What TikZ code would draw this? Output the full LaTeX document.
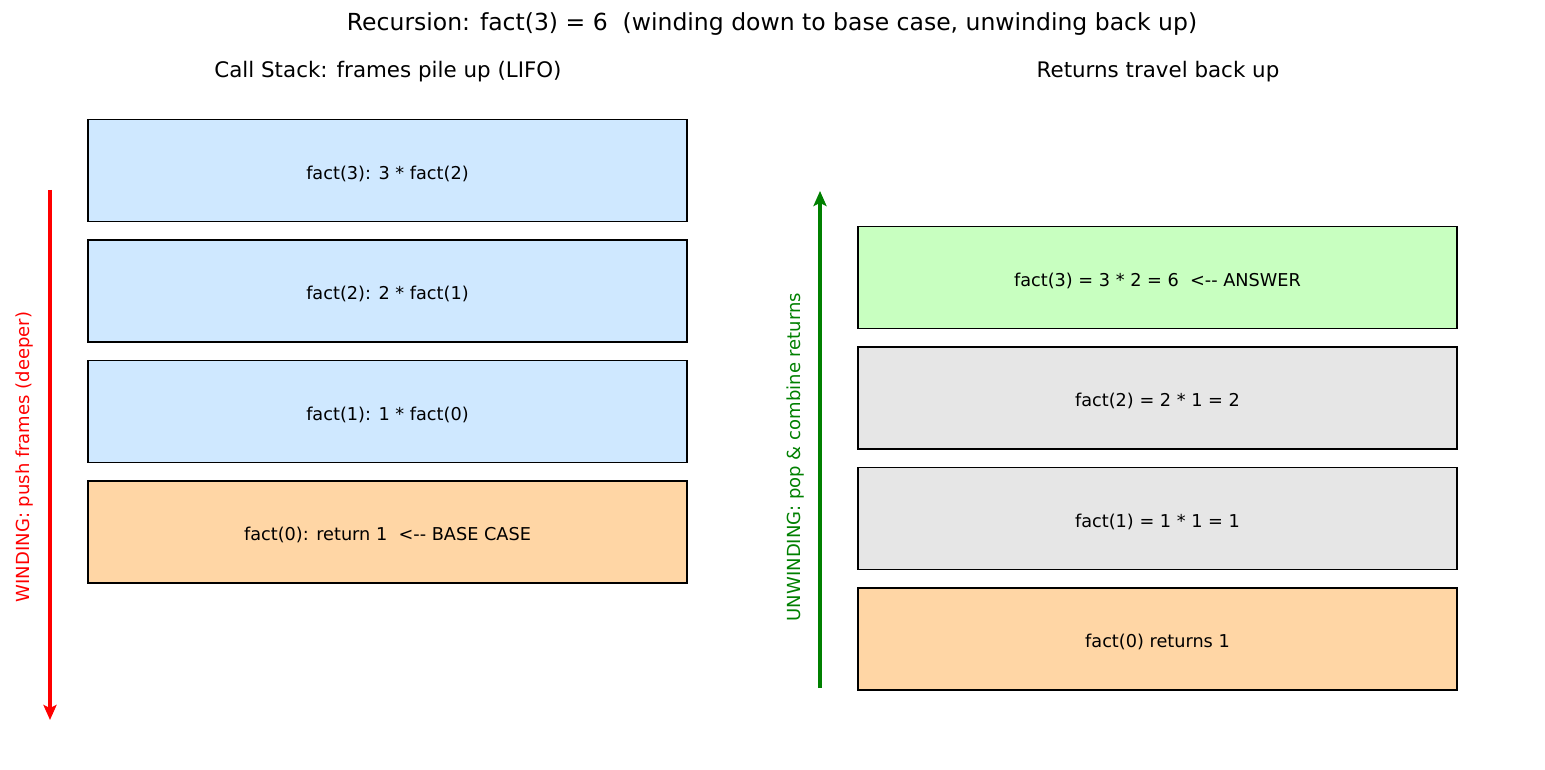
\documentclass[tikz,border=0pt]{standalone}
\usepackage{fontspec}
\setmainfont{DejaVu Sans}
\usetikzlibrary{arrows.meta}
\definecolor{cblue}{HTML}{CFE8FF}
\definecolor{corange}{HTML}{FFD6A5}
\definecolor{cgreen}{HTML}{C8FFC0}
\definecolor{cgray}{HTML}{E6E6E6}
\definecolor{mgreen}{HTML}{008000}
\tikzset{
  frame/.style={draw=black, line width=1.8pt, minimum width=599pt, minimum height=102pt, inner sep=0pt, text height=17.5pt, text depth=0pt, font=\fontsize{17.7}{20}\selectfont},
  ttl/.style={font=\fontsize{21.4}{24}\selectfont},
  side/.style={font=\fontsize{18}{20}\selectfont, rotate=90},
  arr/.style={line width=3.6pt, -{Stealth[length=15pt,width=13pt,inset=3pt]}}
}
\begin{document}
\begin{tikzpicture}[x=1pt,y=-1pt]
\useasboundingbox (0,0) rectangle (1545,770);
\node[font=\fontsize{23.5}{26}\selectfont] (sup) at (772,24.5) {Recursion: fact(3) = 6\ \ (winding down to base case, unwinding back up)};
\node[ttl] (t1) at (388,72) {Call Stack: frames pile up (LIFO)};
\node[ttl] (t2) at (1158,72) {Returns travel back up};

\node[frame, fill=cblue] (a3) at (387.5,170.5) {fact(3): 3 * fact(2)};
\node[frame, fill=cblue] (a2) at (387.5,291) {fact(2): 2 * fact(1)};
\node[frame, fill=cblue] (a1) at (387.5,411.5) {fact(1): 1 * fact(0)};
\node[frame, fill=corange] (a0) at (387.5,532) {fact(0): return 1\ \ <{-}{-} BASE CASE};

\node[frame, fill=cgreen] (b3) at (1157.5,277.5) {fact(3) = 3 * 2 = 6\ \ <{-}{-} ANSWER};
\node[frame, fill=cgray] (b2) at (1157.5,398) {fact(2) = 2 * 1 = 2};
\node[frame, fill=cgray] (b1) at (1157.5,518.5) {fact(1) = 1 * 1 = 1};
\node[frame, fill=corange] (b0) at (1157.5,639) {fact(0) returns 1};

\coordinate (r1) at (50,190);
\coordinate (r2) at (50,720);
\draw[arr, draw=red] (r1) -- (r2);
\node[side, text=red] (rl) at (25,457) {WINDING: push frames (deeper)};

\coordinate (g1) at (820,688);
\coordinate (g2) at (820,191);
\draw[arr, draw=mgreen] (g1) -- (g2);
\node[side, text=mgreen] (gl) at (796,457) {UNWINDING: pop \& combine returns};
\end{tikzpicture}
\end{document}
